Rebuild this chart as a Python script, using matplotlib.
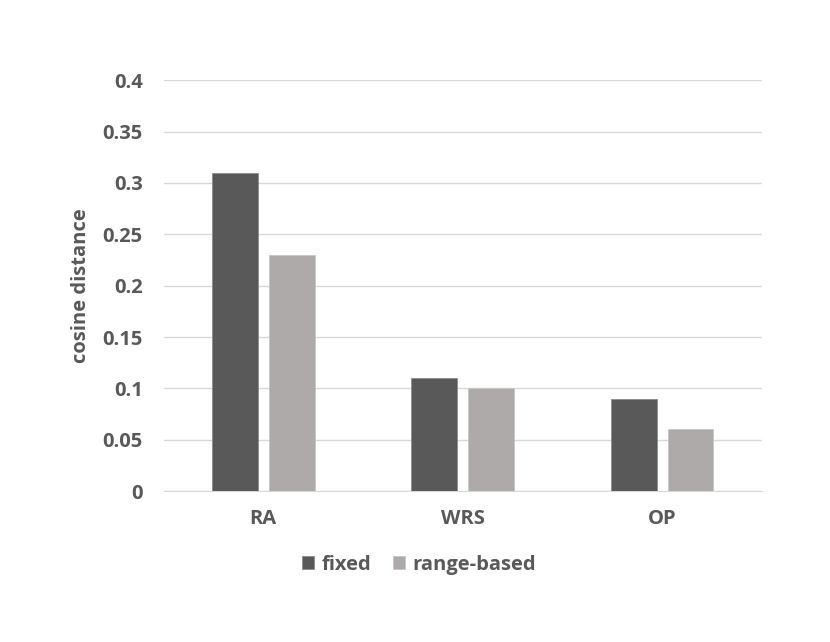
import numpy as np
import matplotlib.pyplot as plt

# datos
categorias = ['RA', 'WRS', 'OP']
fijo = [0.31, 0.11, 0.09]
por_rango = [0.23, 0.10, 0.06]
ticks_y = [0, 0.05, 0.1, 0.15, 0.2, 0.25, 0.3, 0.35, 0.4]
etiquetas_y = ['0', '0.05', '0.1', '0.15', '0.2', '0.25', '0.3', '0.35', '0.4']

gris_texto = '#595959'
plt.rcParams['font.family'] = ['Open Sans', 'DejaVu Sans']

fig = plt.figure(figsize=(8.3, 6.42), dpi=100, facecolor='white')
ax = fig.add_axes([0.197, 0.235, 0.721, 0.64])

x = np.arange(len(categorias))
ancho = 0.23
ax.bar(x - 0.142, fijo, ancho, color='#595959', edgecolor='#8c8c8c', linewidth=0.6,
       label='fixed', zorder=3)
ax.bar(x + 0.142, por_rango, ancho, color='#aeaaaa', edgecolor='#c8c5c5', linewidth=0.6,
       label='range-based', zorder=3)

ax.set_xlim(-0.5, 2.5)
ax.set_ylim(0, 0.4)
ax.set_yticks(ticks_y)
ax.set_yticklabels(etiquetas_y)
ax.set_xticks(x)
ax.set_xticklabels(categorias)
ax.grid(axis='y', color='#d9d9d9', linewidth=1, zorder=0)
for s in ['top', 'right', 'left']:
    ax.spines[s].set_visible(False)
ax.spines['bottom'].set_color('#d9d9d9')
ax.tick_params(length=0, colors=gris_texto, labelsize=14.5)
ax.tick_params(axis='y', pad=15)
ax.tick_params(axis='x', pad=13)
for t in ax.get_xticklabels() + ax.get_yticklabels():
    t.set_fontweight('bold')

ax.set_ylabel('cosine distance', color=gris_texto, fontsize=14.5, fontweight='bold', labelpad=8)

ax.legend(loc='center', bbox_to_anchor=(0.505, 0.12), bbox_transform=fig.transFigure, ncol=2,
          frameon=False, prop={'size': 14.5, 'weight': 'bold'}, labelcolor=gris_texto,
          handlelength=0.6, handleheight=0.6, handletextpad=0.35, columnspacing=1.1)

fig.savefig('out.png', dpi=100, facecolor='white')
